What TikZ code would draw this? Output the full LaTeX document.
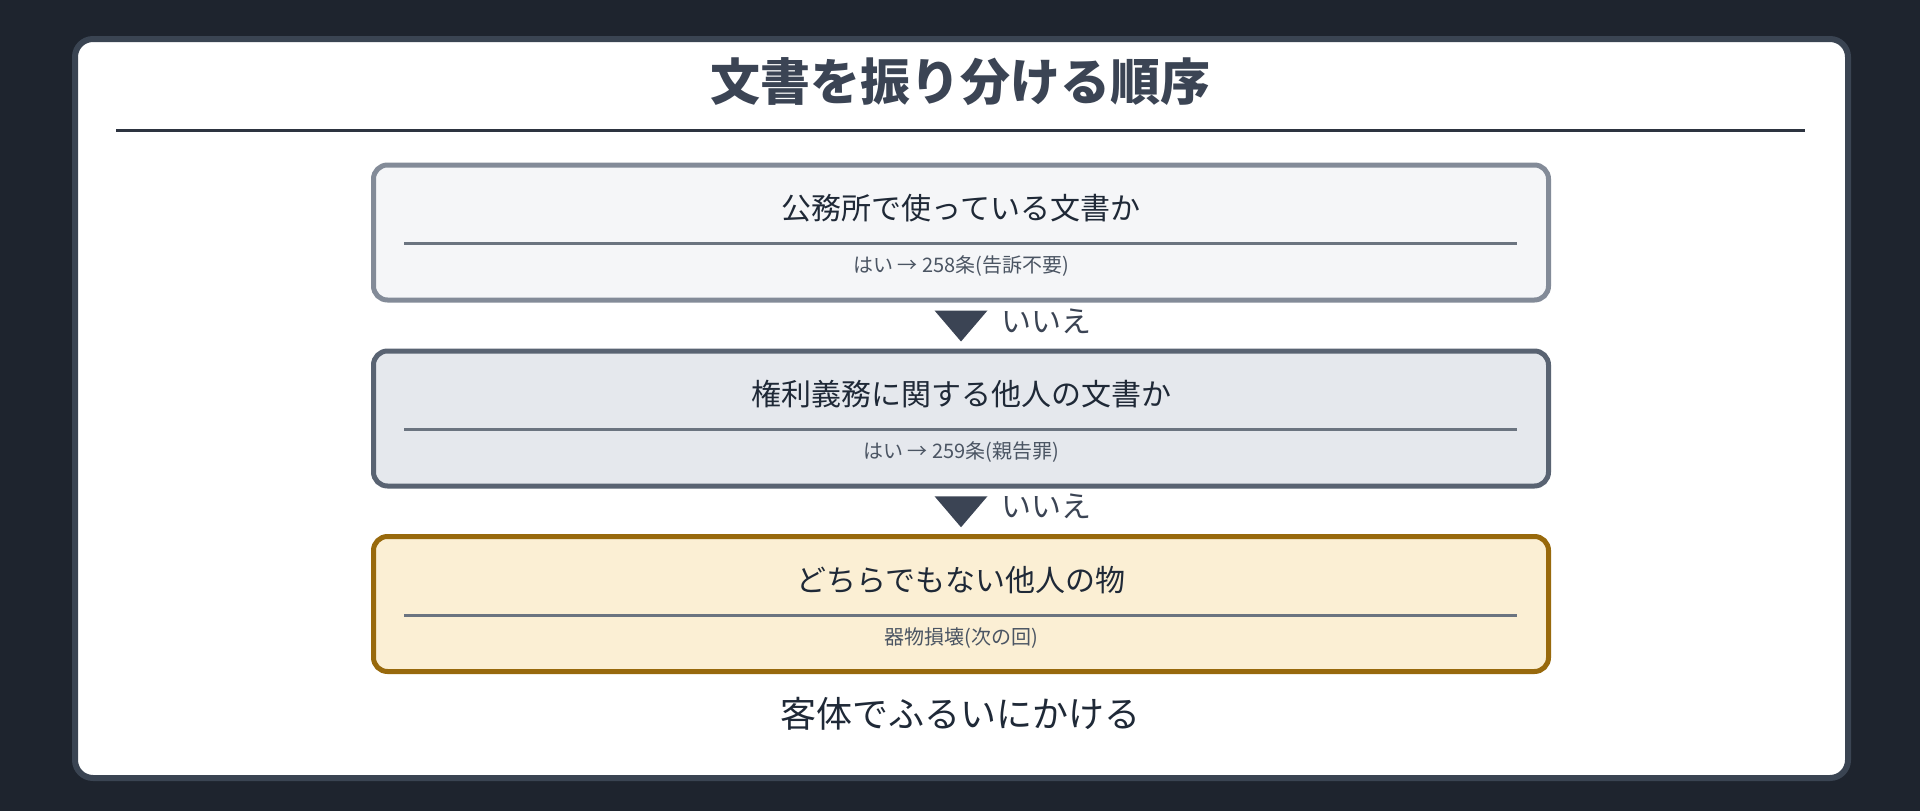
\documentclass[tikz,border=0pt]{standalone}
\usepackage{fontspec}
\setmainfont{Noto Sans CJK JP}
\usetikzlibrary{calc}
\definecolor{bgc}{HTML}{1E242E}
\definecolor{cardborder}{HTML}{3A4452}
\definecolor{titlec}{HTML}{3B4454}
\definecolor{rulec}{HTML}{2D3440}
\definecolor{fillA}{HTML}{F5F6F8}
\definecolor{drawA}{HTML}{838B98}
\definecolor{fillB}{HTML}{E5E8ED}
\definecolor{drawB}{HTML}{596372}
\definecolor{fillC}{HTML}{FBEFD4}
\definecolor{drawC}{HTML}{98690C}
\definecolor{innerc}{HTML}{6B7480}
\definecolor{subc}{HTML}{4B5563}
\definecolor{textc}{HTML}{1F2937}
\tikzset{
  every node/.style={inner sep=0pt, outer sep=0pt, text height=0.88em, text depth=0.12em},
  stepbox/.style={rectangle, rounded corners=14pt, line width=5pt,
    minimum width=1175pt, minimum height=135pt},
  boxtitle/.style={text=textc, font=\fontsize{30}{35}\selectfont},
  boxsub/.style={text=subc, font=\fontsize{20}{24}\selectfont},
  nolabel/.style={text=titlec, font=\fontsize{30}{35}\selectfont, anchor=west},
  innerline/.style={draw=innerc, line width=3pt},
  marker/.style={fill=titlec}
}
\begin{document}
\begin{tikzpicture}[x=1pt,y=-1pt]
\useasboundingbox (0,0) rectangle (1920,811);
\fill[bgc] (0,0) rectangle (1920,811);
% card
\draw[draw=cardborder, fill=white, line width=6pt, rounded corners=18pt] (75,39) rectangle (1848,778);
% title
\node[text=titlec, font=\fontsize{50}{60}\selectfont\bfseries] (title) at (960,97) {文書を振り分ける順序};
\coordinate (ruleL) at (116,130.5);
\coordinate (ruleR) at (1805,130.5);
\draw[draw=rulec, line width=3pt] (ruleL) -- (ruleR);
% boxes
\node[stepbox, draw=drawA, fill=fillA] (box1) at (961,232.5) {};
\node[stepbox, draw=drawB, fill=fillB] (box2) at (961,418.5) {};
\node[stepbox, draw=drawC, fill=fillC] (box3) at (961,604) {};
% box contents
\foreach \b/\t/\s in {box1/公務所で使っている文書か/はい → 258条(告訴不要),
                      box2/権利義務に関する他人の文書か/はい → 259条(親告罪),
                      box3/どちらでもない他人の物/器物損壊(次の回)}{
  \node[boxtitle] (\b t) at ($(\b.north)+(0,51)$) {\t};
  \draw[innerline] ($(\b.north)+(-557,78.5)$) -- ($(\b.north)+(556,78.5)$);
  \node[boxsub] (\b s) at ($(\b.north)+(0,104)$) {\s};
}
% markers between boxes
\coordinate (m1) at ($(box1.south)!0.5!(box2.north)$);
\coordinate (m2) at ($(box2.south)!0.5!(box3.north)$);
\foreach \m in {m1,m2}{
  \fill[marker] ($(\m)+(-26.5,-15)$) -- ($(\m)+(26.5,-15)$) -- ($(\m)+(0,16)$) -- cycle;
}
\node[nolabel] (no1) at ($(m1)+(40,3)$) {いいえ};
\node[nolabel] (no2) at ($(m2)+(40,2)$) {いいえ};
% bottom text
\node[text=textc, font=\fontsize{36}{42}\selectfont] (bottom) at (960,724) {客体でふるいにかける};
\end{tikzpicture}
\end{document}
